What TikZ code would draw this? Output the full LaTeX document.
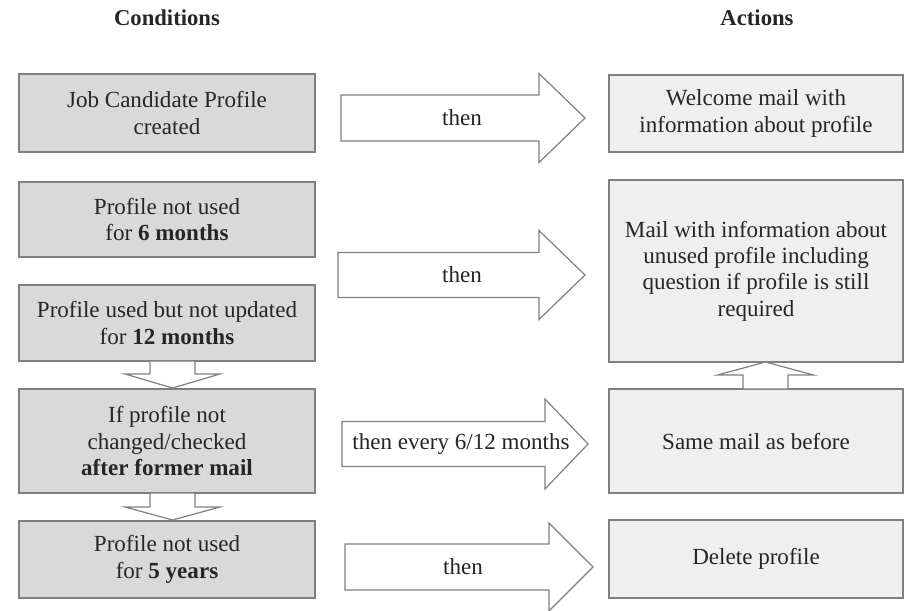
\documentclass[tikz,border=0pt]{standalone}
\usepackage{fontspec}
\setmainfont{Liberation Serif}
\definecolor{lfill}{HTML}{D9D9D9}
\definecolor{rfill}{HTML}{EFEFEF}
\definecolor{edge}{HTML}{808080}
\definecolor{ink}{HTML}{262626}
\newcommand\harrow[6]{% x0, x1 (head base), x2 (tip), yc, half shaft, half head
  \draw[barrow] (#1,#4-#5) -- (#2,#4-#5) -- (#2,#4-#6) -- (#3,#4) -- (#2,#4+#6) -- (#2,#4+#5) -- (#1,#4+#5) -- cycle;}
\newcommand\varrow[6]{% xc, y0, y1 (head base), y2 (tip), half shaft, half head
  \draw[barrow] (#1-#5,#2) -- (#1-#5,#3) -- (#1-#6,#3) -- (#1,#4) -- (#1+#6,#3) -- (#1+#5,#3) -- (#1+#5,#2) -- cycle;}
\begin{document}
\begin{tikzpicture}[x=0.75pt,y=-0.75pt,
  every node/.style={font=\fontsize{17.3}{19.8}\selectfont, text=ink},
  lbox/.style={draw=edge, line width=0.9pt, fill=lfill, minimum width=222pt, align=center, inner sep=0pt},
  rbox/.style={draw=edge, line width=0.9pt, fill=rfill, minimum width=220.5pt, align=center, inner sep=0pt},
  barrow/.style={draw=edge, line width=0.9pt, fill=white, line join=miter},
  heading/.style={font=\bfseries\fontsize{17}{20}\selectfont}]
\fill[white] (0,0) rectangle (906,610);
\useasboundingbox (0,0) rectangle (906,610);

\node[heading] (hc) at (167,18) {Conditions};
\node[heading] (ha) at (757,18) {Actions};

% condition boxes
\node[lbox, minimum height=58.5pt]  (L1) at (167,113)   {Job Candidate Profile\\created};
\node[lbox, minimum height=56.25pt] (L2) at (167,219.5) {Profile not used\\for \textbf{6 months}};
\node[lbox, minimum height=57pt]    (L3) at (167,323)   {Profile used but not updated\\for \textbf{12 months}};
\node[lbox, minimum height=78pt]    (L4) at (167,441)   {If profile not\\changed/checked\\\textbf{after former mail}};
\node[lbox, minimum height=57.75pt] (L5) at (167,559.5) {Profile not used\\for \textbf{5 years}};

% action boxes
\node[rbox, minimum height=57.75pt] (R1) at (756,113.5) {Welcome mail with\\information about profile};
\node[rbox, minimum height=136.5pt] (R2) at (756,271)   {Mail with information about\\unused profile including\\question if profile is still\\required};
\node[rbox, minimum height=78pt]    (R3) at (756,441)   {Same mail as before};
\node[rbox, minimum height=58.5pt]  (R4) at (756,559)   {Delete profile};

% horizontal block arrows
\harrow{341}{539}{585}{118}{23}{44.5}
\harrow{338}{539}{585}{275}{22.5}{44.5}
\harrow{342}{545}{588}{444}{22.5}{45}
\harrow{345}{549}{593}{567}{23}{44}
\node (t1) at (462,118) {then};
\node (t2) at (462,275) {then};
\node (t3) at (461,444) {then every 6/12 months};
\node (t4) at (463,567) {then};

% vertical block arrows
\varrow{172.5}{361}{374}{388}{22.5}{47.5}
\varrow{172.5}{493}{507}{520}{22.5}{47.5}
\varrow{765.5}{389}{375}{362}{22.5}{48}
\end{tikzpicture}
\end{document}
